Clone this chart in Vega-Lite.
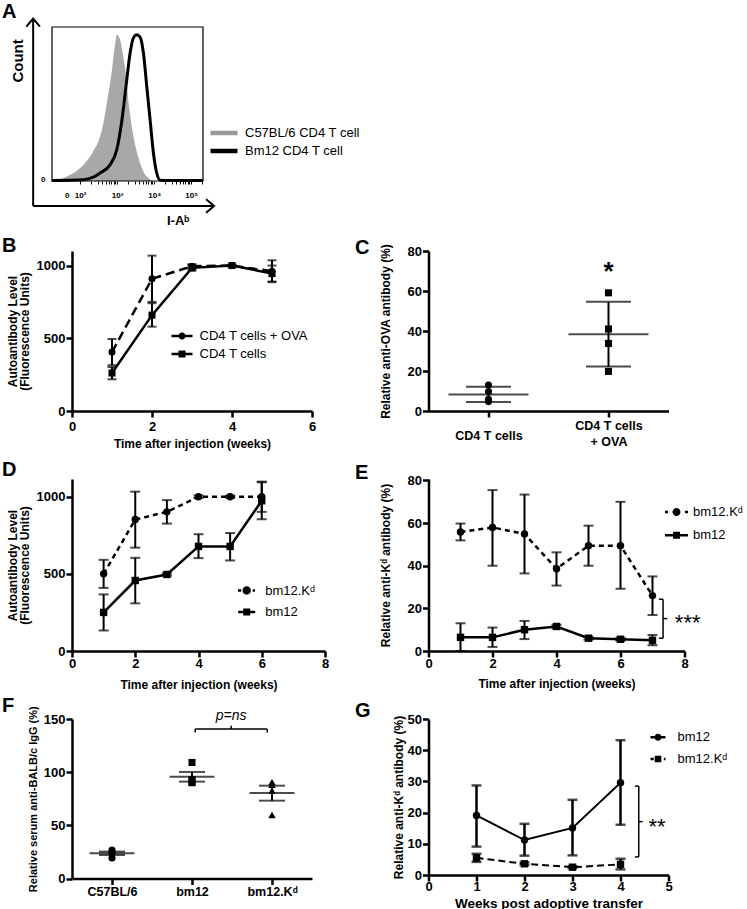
{
"$schema": "https://vega.github.io/schema/vega-lite/v6.json",
"background": "white",
"padding": {"left": 2, "top": 2, "right": 2, "bottom": 2},
"columns": 2,
"align": "each",
"bounds": "flush",
"spacing": {"row": 68, "column": 103.5},
"resolve": {"scale": {"shape": "independent", "stroke": "independent"}, "legend": {"shape": "independent", "stroke": "independent"}},
"config": {
 "font": "Liberation Sans",
 "view": {"stroke": null},
 "axis": {"domainColor": "black", "domainWidth": 2.5, "tickColor": "black", "tickWidth": 2.5, "tickSize": 6, "labelFont": "Liberation Sans", "labelFontWeight": "bold", "labelFontSize": 13, "labelColor": "black", "labelPadding": 1, "titleFont": "Liberation Sans", "titleFontWeight": "bold", "titleColor": "black", "titleFontSize": 12, "grid": false, "labelFlush": false, "labelOverlap": false},
 "legend": {"labelFont": "Liberation Sans", "labelFontSize": 13, "labelColor": "black", "labelLimit": 300},
 "title": {"anchor": "start", "frame": "group", "font": "Liberation Sans", "fontSize": 20, "fontWeight": "bold", "color": "black", "baseline": "top", "offset": 0}
},
"datasets": {
 "hist": [
  {"pop": "C57BL/6 CD4 T cell", "d": 1.24, "c": 0.3},
  {"pop": "C57BL/6 CD4 T cell", "d": 1.45, "c": 1.2},
  {"pop": "C57BL/6 CD4 T cell", "d": 1.64, "c": 3.0},
  {"pop": "C57BL/6 CD4 T cell", "d": 1.9, "c": 6.5},
  {"pop": "C57BL/6 CD4 T cell", "d": 2.135, "c": 11.7},
  {"pop": "C57BL/6 CD4 T cell", "d": 2.35, "c": 19},
  {"pop": "C57BL/6 CD4 T cell", "d": 2.54, "c": 29},
  {"pop": "C57BL/6 CD4 T cell", "d": 2.64, "c": 39},
  {"pop": "C57BL/6 CD4 T cell", "d": 2.72, "c": 50.6},
  {"pop": "C57BL/6 CD4 T cell", "d": 2.8, "c": 62},
  {"pop": "C57BL/6 CD4 T cell", "d": 2.86, "c": 72.3},
  {"pop": "C57BL/6 CD4 T cell", "d": 2.95, "c": 89.6},
  {"pop": "C57BL/6 CD4 T cell", "d": 2.99, "c": 95},
  {"pop": "C57BL/6 CD4 T cell", "d": 3.08, "c": 91.8},
  {"pop": "C57BL/6 CD4 T cell", "d": 3.15, "c": 83},
  {"pop": "C57BL/6 CD4 T cell", "d": 3.22, "c": 72.3},
  {"pop": "C57BL/6 CD4 T cell", "d": 3.31, "c": 50.6},
  {"pop": "C57BL/6 CD4 T cell", "d": 3.44, "c": 29},
  {"pop": "C57BL/6 CD4 T cell", "d": 3.53, "c": 19},
  {"pop": "C57BL/6 CD4 T cell", "d": 3.62, "c": 11.7},
  {"pop": "C57BL/6 CD4 T cell", "d": 3.72, "c": 5.5},
  {"pop": "C57BL/6 CD4 T cell", "d": 3.85, "c": 1.9},
  {"pop": "C57BL/6 CD4 T cell", "d": 3.98, "c": 0},
  {"pop": "Bm12 CD4 T cell", "d": 1.235, "c": 0.3},
  {"pop": "Bm12 CD4 T cell", "d": 2.09, "c": 0.8},
  {"pop": "Bm12 CD4 T cell", "d": 2.36, "c": 2.6},
  {"pop": "Bm12 CD4 T cell", "d": 2.54, "c": 5.2},
  {"pop": "Bm12 CD4 T cell", "d": 2.81, "c": 10.6},
  {"pop": "Bm12 CD4 T cell", "d": 2.99, "c": 20.3},
  {"pop": "Bm12 CD4 T cell", "d": 3.13, "c": 39.8},
  {"pop": "Bm12 CD4 T cell", "d": 3.24, "c": 61.5},
  {"pop": "Bm12 CD4 T cell", "d": 3.35, "c": 83.1},
  {"pop": "Bm12 CD4 T cell", "d": 3.44, "c": 92.9},
  {"pop": "Bm12 CD4 T cell", "d": 3.53, "c": 95},
  {"pop": "Bm12 CD4 T cell", "d": 3.62, "c": 93.5},
  {"pop": "Bm12 CD4 T cell", "d": 3.71, "c": 83.1},
  {"pop": "Bm12 CD4 T cell", "d": 3.8, "c": 61.5},
  {"pop": "Bm12 CD4 T cell", "d": 3.89, "c": 39.8},
  {"pop": "Bm12 CD4 T cell", "d": 3.98, "c": 18.2},
  {"pop": "Bm12 CD4 T cell", "d": 4.07, "c": 5.2},
  {"pop": "Bm12 CD4 T cell", "d": 4.16, "c": 0.5},
  {"pop": "Bm12 CD4 T cell", "d": 4.4, "c": 0.3},
  {"pop": "Bm12 CD4 T cell", "d": 5.32, "c": 0.3}
 ],
 "B": [
  {"series": "CD4 T cells + OVA", "week": 1, "mean": 405, "lo": 315, "hi": 495},
  {"series": "CD4 T cells + OVA", "week": 2, "mean": 909, "lo": 750, "hi": 1068},
  {"series": "CD4 T cells + OVA", "week": 3, "mean": 995, "lo": 980, "hi": 1010},
  {"series": "CD4 T cells + OVA", "week": 4, "mean": 1000, "lo": 994, "hi": 1006},
  {"series": "CD4 T cells + OVA", "week": 5, "mean": 961, "lo": 886, "hi": 1036},
  {"series": "CD4 T cells", "week": 1, "mean": 261, "lo": 218, "hi": 302},
  {"series": "CD4 T cells", "week": 2, "mean": 659, "lo": 580, "hi": 741},
  {"series": "CD4 T cells", "week": 3, "mean": 984, "lo": 966, "hi": 1002},
  {"series": "CD4 T cells", "week": 4, "mean": 1000, "lo": 994, "hi": 1006},
  {"series": "CD4 T cells", "week": 5, "mean": 945, "lo": 890, "hi": 1000}
 ],
 "C_pts": [
  {"group": "CD4 T cells", "value": 13.0},
  {"group": "CD4 T cells", "value": 9.7},
  {"group": "CD4 T cells", "value": 5.9},
  {"group": "CD4 T cells", "value": 4.7},
  {"group": "CD4 T cells + OVA", "value": 59.1},
  {"group": "CD4 T cells + OVA", "value": 41.0},
  {"group": "CD4 T cells + OVA", "value": 33.8},
  {"group": "CD4 T cells + OVA", "value": 19.8}
 ],
 "C_sum": [
  {"group": "CD4 T cells", "mean": 8.3, "lo": 4.5, "hi": 12.1},
  {"group": "CD4 T cells + OVA", "mean": 38.4, "lo": 22.2, "hi": 54.6}
 ],
 "D": [
  {"series": "bm12.Kᵈ", "week": 1, "mean": 500, "lo": 409, "hi": 591},
  {"series": "bm12.Kᵈ", "week": 2, "mean": 852, "lo": 670, "hi": 1033},
  {"series": "bm12.Kᵈ", "week": 3, "mean": 902, "lo": 826, "hi": 978},
  {"series": "bm12.Kᵈ", "week": 4, "mean": 1000, "lo": 992, "hi": 1008},
  {"series": "bm12.Kᵈ", "week": 5, "mean": 1000, "lo": 992, "hi": 1008},
  {"series": "bm12.Kᵈ", "week": 6, "mean": 1000, "lo": 902, "hi": 1098},
  {"series": "bm12", "week": 1, "mean": 250, "lo": 133, "hi": 367},
  {"series": "bm12", "week": 2, "mean": 457, "lo": 309, "hi": 604},
  {"series": "bm12", "week": 3, "mean": 496, "lo": 488, "hi": 504},
  {"series": "bm12", "week": 4, "mean": 678, "lo": 602, "hi": 757},
  {"series": "bm12", "week": 5, "mean": 678, "lo": 587, "hi": 765},
  {"series": "bm12", "week": 6, "mean": 974, "lo": 854, "hi": 1094}
 ],
 "E": [
  {"series": "bm12.Kᵈ", "week": 1, "mean": 55.8, "lo": 51.9, "hi": 59.8},
  {"series": "bm12.Kᵈ", "week": 2, "mean": 58.0, "lo": 40.0, "hi": 75.5},
  {"series": "bm12.Kᵈ", "week": 3, "mean": 54.9, "lo": 36.4, "hi": 73.4},
  {"series": "bm12.Kᵈ", "week": 4, "mean": 38.6, "lo": 30.7, "hi": 46.3},
  {"series": "bm12.Kᵈ", "week": 5, "mean": 49.4, "lo": 40.0, "hi": 58.8},
  {"series": "bm12.Kᵈ", "week": 6, "mean": 49.4, "lo": 29.2, "hi": 70.0},
  {"series": "bm12.Kᵈ", "week": 7, "mean": 26.0, "lo": 16.9, "hi": 35.0},
  {"series": "bm12", "week": 1, "mean": 6.4, "lo": 0, "hi": 13.0},
  {"series": "bm12", "week": 2, "mean": 6.4, "lo": 1.9, "hi": 11.0},
  {"series": "bm12", "week": 3, "mean": 10.0, "lo": 5.6, "hi": 14.1},
  {"series": "bm12", "week": 4, "mean": 11.5, "lo": 10.7, "hi": 12.3},
  {"series": "bm12", "week": 5, "mean": 6.0, "lo": 5.3, "hi": 6.7},
  {"series": "bm12", "week": 6, "mean": 5.5, "lo": 4.8, "hi": 6.2},
  {"series": "bm12", "week": 7, "mean": 5.0, "lo": 2.7, "hi": 7.5}
 ],
 "F_pts": [
  {"group": "C57BL/6", "value": 26.8},
  {"group": "C57BL/6", "value": 24.6},
  {"group": "C57BL/6", "value": 24.0},
  {"group": "C57BL/6", "value": 19.2},
  {"group": "bm12", "value": 109.1},
  {"group": "bm12", "value": 93.0},
  {"group": "bm12", "value": 90.2},
  {"group": "bm12", "value": 90.2},
  {"group": "bm12.Kᵈ", "value": 88.1},
  {"group": "bm12.Kᵈ", "value": 90.6},
  {"group": "bm12.Kᵈ", "value": 82.7},
  {"group": "bm12.Kᵈ", "value": 59.7}
 ],
 "F_sum": [
  {"group": "C57BL/6", "mean": 23.7, "lo": 22.1, "hi": 25.3},
  {"group": "bm12", "mean": 95.6, "lo": 91.1, "hi": 100.2},
  {"group": "bm12.Kᵈ", "mean": 80.3, "lo": 73.2, "hi": 87.3}
 ],
 "G": [
  {"series": "bm12", "week": 1, "mean": 19.1, "lo": 9.1, "hi": 28.7},
  {"series": "bm12", "week": 2, "mean": 11.2, "lo": 6.2, "hi": 16.4},
  {"series": "bm12", "week": 3, "mean": 15.1, "lo": 6.3, "hi": 24.1},
  {"series": "bm12", "week": 4, "mean": 29.6, "lo": 16.1, "hi": 43.2},
  {"series": "bm12.Kᵈ", "week": 1, "mean": 5.5, "lo": 4.2, "hi": 6.8},
  {"series": "bm12.Kᵈ", "week": 2, "mean": 3.6, "lo": 3.2, "hi": 4.0},
  {"series": "bm12.Kᵈ", "week": 3, "mean": 2.5, "lo": 2.2, "hi": 2.8},
  {"series": "bm12.Kᵈ", "week": 4, "mean": 3.4, "lo": 1.8, "hi": 5.2}
 ]
},
"concat": [
 {
  "title": {"text": "A", "dx": -70, "dy": 11.5},
  "width": 131, "height": 154,
  "layer": [
   {"data": {"name": "hist"}, "transform": [{"filter": "datum.pop == 'C57BL/6 CD4 T cell'"}],
    "mark": {"type": "area", "color": "#a8a8a8", "interpolate": "monotone"},
    "encoding": {
     "x": {"field": "d", "type": "quantitative", "scale": {"domain": [1.78, 5.32], "nice": false, "zero": false},
      "axis": {"values": [2, 2.301, 2.477, 2.602, 2.699, 2.778, 2.845, 2.903, 2.954, 3, 3.301, 3.477, 3.602, 3.699, 3.778, 3.845, 3.903, 3.954, 4, 4.301, 4.477, 4.602, 4.699, 4.778, 4.845, 4.903, 4.954, 5, 5.301],
       "tickCount": 100,
       "labelExpr": "datum.value == 2 ? '10²' : datum.value == 3 ? '10³' : datum.value == 4 ? '10⁴' : datum.value == 5 ? '10⁵' : ''",
       "labelOverlap": false, "domain": false, "tickSize": 3, "tickWidth": 1, "labelFontSize": 8, "labelPadding": 7, "title": null}},
     "y": {"field": "c", "type": "quantitative", "scale": {"domain": [0, 100], "nice": false}, "axis": null}}},
   {"data": {"values": [{}]},
    "mark": {"type": "rect", "fillOpacity": 0, "stroke": "black", "strokeWidth": 1.2},
    "encoding": {"x": {"datum": 1.24}, "x2": {"datum": 5.32}, "y": {"datum": 0}, "y2": {"datum": 100}}},
   {"data": {"name": "hist"}, "transform": [{"filter": "datum.pop == 'Bm12 CD4 T cell'"}],
    "mark": {"type": "line", "strokeWidth": 3, "interpolate": "monotone"},
    "encoding": {
     "x": {"field": "d", "type": "quantitative"},
     "y": {"field": "c", "type": "quantitative"},
     "stroke": {"field": "pop", "type": "nominal", "scale": {"domain": ["C57BL/6 CD4 T cell", "Bm12 CD4 T cell"], "range": ["#999999", "black"]},
      "legend": {"title": null, "orient": "none", "legendX": 136, "legendY": 99.5, "symbolType": "stroke", "symbolSize": 729, "symbolStrokeWidth": 4.5, "labelOffset": 5, "clipHeight": 13, "rowPadding": 4, "padding": 0, "labelFontSize": 13}}}},
   {"data": {"values": [{}]}, "mark": {"type": "rule", "color": "black", "strokeWidth": 2},
    "encoding": {"x": {"datum": 0.73}, "y": {"datum": -16.2}, "y2": {"datum": 105}}},
   {"data": {"values": [{}]}, "mark": {"type": "rule", "color": "black", "strokeWidth": 2},
    "encoding": {"y": {"datum": -16.2}, "x": {"datum": 0.73}, "x2": {"datum": 5.6}}},
   {"data": {"values": [{}]}, "mark": {"type": "point", "shape": "M-0.85,1L0,0L0.85,1", "size": 256, "filled": false, "stroke": "black", "strokeWidth": 2, "opacity": 1},
    "encoding": {"x": {"datum": 0.73}, "y": {"datum": 105.5}}},
   {"data": {"values": [{}]}, "mark": {"type": "point", "shape": "M-1,-0.85L0,0L-1,0.85", "size": 256, "filled": false, "stroke": "black", "strokeWidth": 2, "opacity": 1},
    "encoding": {"x": {"datum": 5.62}, "y": {"datum": -16.2}}},
   {"data": {"values": [{}]}, "mark": {"type": "text", "text": "0", "fontSize": 8, "fontWeight": "bold", "align": "center", "baseline": "middle"},
    "encoding": {"x": {"datum": 1.65}, "y": {"datum": -9.7}}},
   {"data": {"values": [{}]}, "mark": {"type": "text", "text": "0", "fontSize": 8, "fontWeight": "bold", "align": "center", "baseline": "middle"},
    "encoding": {"x": {"datum": 1.0}, "y": {"datum": 0.8}}},
   {"data": {"values": [{}]}, "mark": {"type": "text", "text": "Count", "angle": 270, "fontSize": 15, "fontWeight": "bold", "align": "center", "baseline": "middle"},
    "encoding": {"x": {"datum": 0.32}, "y": {"datum": 78}}},
   {"data": {"values": [{}]}, "mark": {"type": "text", "text": "I-Aᵇ", "fontSize": 13, "fontWeight": "bold", "align": "center", "baseline": "middle"},
    "encoding": {"x": {"datum": 4.65}, "y": {"datum": -26}}}
  ]
 },
 {
  "width": 10, "height": 155.5,
  "data": {"values": [{}]},
  "mark": {"type": "point", "opacity": 0}
 },
 {
  "title": {"text": "B", "dx": -70, "dy": 9},
  "width": 240, "height": 160,
  "data": {"name": "B"},
  "layer": [
   {"transform": [{"filter": "datum.series == 'CD4 T cells + OVA'"}],
    "mark": {"type": "line", "color": "black", "strokeWidth": 2.5, "strokeDash": [9, 5]},
    "encoding": {
     "x": {"field": "week", "type": "quantitative", "scale": {"domain": [0, 6], "nice": false}, "axis": {"values": [0, 2, 4, 6], "tickCount": 100, "format": "d", "labelOverlap": false, "title": "Time after injection (weeks)", "labelPadding": 3, "titlePadding": 5}},
     "y": {"field": "mean", "type": "quantitative", "scale": {"domain": [0, 1100], "nice": false}, "axis": {"values": [0, 500, 1000], "tickCount": 100, "format": "d", "labelOverlap": false, "title": ["Autoantibody Level", "(Fluorescence Units)"], "titleLineHeight": 12, "titlePadding": 5}}}},
   {"transform": [{"filter": "datum.series == 'CD4 T cells'"}],
    "mark": {"type": "line", "color": "black", "strokeWidth": 2.5},
    "encoding": {"x": {"field": "week", "type": "quantitative"}, "y": {"field": "mean", "type": "quantitative"}}},
   {"mark": {"type": "rule", "color": "black", "strokeWidth": 2},
    "encoding": {"x": {"field": "week", "type": "quantitative"}, "y": {"field": "lo", "type": "quantitative"}, "y2": {"field": "hi"}}},
   {"mark": {"type": "tick", "orient": "horizontal", "color": "black", "size": 9, "thickness": 2},
    "encoding": {"x": {"field": "week", "type": "quantitative"}, "y": {"field": "lo", "type": "quantitative"}}},
   {"mark": {"type": "tick", "orient": "horizontal", "color": "black", "size": 9, "thickness": 2},
    "encoding": {"x": {"field": "week", "type": "quantitative"}, "y": {"field": "hi", "type": "quantitative"}}},
   {"transform": [{"filter": "datum.series == 'CD4 T cells + OVA'"}],
    "mark": {"type": "point", "shape": "circle", "filled": true, "color": "black", "size": 50, "opacity": 1},
    "encoding": {"x": {"field": "week", "type": "quantitative"}, "y": {"field": "mean", "type": "quantitative"}}},
   {"transform": [{"filter": "datum.series == 'CD4 T cells'"}],
    "mark": {"type": "point", "shape": "square", "filled": true, "color": "black", "size": 50, "opacity": 1},
    "encoding": {"x": {"field": "week", "type": "quantitative"}, "y": {"field": "mean", "type": "quantitative"}}},
   {"mark": {"type": "point", "filled": true, "color": "black", "opacity": 0},
    "encoding": {"x": {"field": "week", "type": "quantitative"}, "y": {"field": "mean", "type": "quantitative"},
     "shape": {"field": "series", "type": "nominal",
      "scale": {"domain": ["CD4 T cells + OVA", "CD4 T cells"], "range": ["M-2.1,-0.25H2.1V0.25H-2.1ZM0.7,0A0.7,0.7,0,1,1,-0.7,0A0.7,0.7,0,1,1,0.7,0Z", "M-2.1,-0.25H2.1V0.25H-2.1ZM-0.7,-0.7H0.7V0.7H-0.7Z"]},
      "legend": {"title": null, "orient": "none", "legendX": 103.5, "legendY": 78.5, "symbolSize": 100, "symbolFillColor": "black", "symbolStrokeColor": "black", "symbolStrokeWidth": 2.5, "symbolOpacity": 1, "labelOffset": 11, "rowPadding": 1, "padding": 0, "labelFontSize": 13}}}}
  ]
 },
 {
  "title": {"text": "C", "dx": -73.5, "dy": 18.7},
  "width": 240, "height": 160,
  "layer": [
   {"data": {"name": "C_sum"},
    "mark": {"type": "rule", "color": "black", "strokeWidth": 2},
    "encoding": {
     "x": {"field": "group", "type": "nominal", "scale": {"type": "point", "padding": 0.5, "domain": ["CD4 T cells", "CD4 T cells + OVA"]},
      "axis": {"title": null, "labelAngle": 0, "labelOverlap": false, "labelBaseline": "top", "labelLineHeight": 16, "labelFontSize": 12.5,
       "labelPadding": {"condition": {"test": "datum.value == 'CD4 T cells + OVA'", "value": 2}, "value": 12},
       "labelExpr": "datum.value == 'CD4 T cells + OVA' ? ['CD4 T cells', '+ OVA'] : datum.label"}},
     "y": {"field": "lo", "type": "quantitative", "scale": {"domain": [0, 80], "nice": false}, "axis": {"values": [0, 20, 40, 60, 80], "tickCount": 100, "format": "d", "labelOverlap": false, "title": "Relative anti-OVA antibody (%)", "titlePadding": 15}},
     "y2": {"field": "hi"}}},
   {"data": {"name": "C_sum"},
    "mark": {"type": "tick", "orient": "horizontal", "color": "black", "size": 80, "thickness": 2},
    "encoding": {"x": {"field": "group", "type": "nominal"}, "y": {"field": "mean", "type": "quantitative"}}},
   {"data": {"name": "C_sum"},
    "mark": {"type": "tick", "orient": "horizontal", "color": "black", "size": 45, "thickness": 2},
    "encoding": {"x": {"field": "group", "type": "nominal"}, "y": {"field": "lo", "type": "quantitative"}}},
   {"data": {"name": "C_sum"},
    "mark": {"type": "tick", "orient": "horizontal", "color": "black", "size": 45, "thickness": 2},
    "encoding": {"x": {"field": "group", "type": "nominal"}, "y": {"field": "hi", "type": "quantitative"}}},
   {"data": {"name": "C_pts"}, "transform": [{"filter": "datum.group == 'CD4 T cells'"}],
    "mark": {"type": "point", "shape": "circle", "filled": true, "color": "black", "size": 50, "opacity": 1},
    "encoding": {"x": {"field": "group", "type": "nominal"}, "y": {"field": "value", "type": "quantitative"}}},
   {"data": {"name": "C_pts"}, "transform": [{"filter": "datum.group == 'CD4 T cells + OVA'"}],
    "mark": {"type": "point", "shape": "square", "filled": true, "color": "black", "size": 50, "opacity": 1},
    "encoding": {"x": {"field": "group", "type": "nominal"}, "y": {"field": "value", "type": "quantitative"}}},
   {"data": {"values": [{}]},
    "mark": {"type": "text", "text": "*", "fontSize": 26, "fontWeight": "bold", "align": "center", "baseline": "middle"},
    "encoding": {"x": {"datum": "CD4 T cells + OVA"}, "y": {"datum": 69.5}}}
  ]
 },
 {
  "title": {"text": "D", "dx": -70, "dy": 4.5},
  "width": 253, "height": 172,
  "data": {"name": "D"},
  "layer": [
   {"transform": [{"filter": "datum.series == 'bm12.Kᵈ'"}],
    "mark": {"type": "line", "color": "black", "strokeWidth": 2.5, "strokeDash": [5, 4]},
    "encoding": {
     "x": {"field": "week", "type": "quantitative", "scale": {"domain": [0, 8], "nice": false}, "axis": {"values": [0, 2, 4, 6, 8], "tickCount": 100, "format": "d", "labelOverlap": false, "title": "Time after injection (weeks)", "labelPadding": 0, "titlePadding": 9}},
     "y": {"field": "mean", "type": "quantitative", "scale": {"domain": [0, 1115], "nice": false}, "axis": {"values": [0, 500, 1000], "tickCount": 100, "format": "d", "labelOverlap": false, "title": ["Autoantibody Level", "(Fluorescence Units)"], "titleLineHeight": 12, "titlePadding": 5}}}},
   {"transform": [{"filter": "datum.series == 'bm12'"}],
    "mark": {"type": "line", "color": "black", "strokeWidth": 2.5},
    "encoding": {"x": {"field": "week", "type": "quantitative"}, "y": {"field": "mean", "type": "quantitative"}}},
   {"mark": {"type": "rule", "color": "black", "strokeWidth": 2},
    "encoding": {"x": {"field": "week", "type": "quantitative"}, "y": {"field": "lo", "type": "quantitative"}, "y2": {"field": "hi"}}},
   {"mark": {"type": "tick", "orient": "horizontal", "color": "black", "size": 10, "thickness": 2},
    "encoding": {"x": {"field": "week", "type": "quantitative"}, "y": {"field": "lo", "type": "quantitative"}}},
   {"mark": {"type": "tick", "orient": "horizontal", "color": "black", "size": 10, "thickness": 2},
    "encoding": {"x": {"field": "week", "type": "quantitative"}, "y": {"field": "hi", "type": "quantitative"}}},
   {"transform": [{"filter": "datum.series == 'bm12.Kᵈ'"}],
    "mark": {"type": "point", "shape": "circle", "filled": true, "color": "black", "size": 55, "opacity": 1},
    "encoding": {"x": {"field": "week", "type": "quantitative"}, "y": {"field": "mean", "type": "quantitative"}}},
   {"transform": [{"filter": "datum.series == 'bm12'"}],
    "mark": {"type": "point", "shape": "square", "filled": true, "color": "black", "size": 55, "opacity": 1},
    "encoding": {"x": {"field": "week", "type": "quantitative"}, "y": {"field": "mean", "type": "quantitative"}}},
   {"mark": {"type": "point", "filled": true, "color": "black", "opacity": 0},
    "encoding": {"x": {"field": "week", "type": "quantitative"}, "y": {"field": "mean", "type": "quantitative"},
     "shape": {"field": "series", "type": "nominal",
      "scale": {"domain": ["bm12.Kᵈ", "bm12"], "range": ["M-1.74,-0.25H-1.1V0.25H-1.74ZM1.2,-0.25H1.66V0.25H1.2ZM0.84,0A0.84,0.84,0,1,1,-0.84,0A0.84,0.84,0,1,1,0.84,0Z", "M-1.7,-0.25H1.7V0.25H-1.7ZM-0.7,-0.7H0.7V0.7H-0.7Z"]},
      "legend": {"title": null, "orient": "none", "legendX": 168.2, "legendY": 105, "symbolSize": 100, "symbolFillColor": "black", "symbolStrokeColor": "black", "symbolStrokeWidth": 2.5, "symbolOpacity": 1, "labelOffset": 12, "rowPadding": 3.6, "padding": 0, "labelFontSize": 13}}}}
  ]
 },
 {
  "title": {"text": "E", "dx": -73.5, "dy": 12.7},
  "width": 256, "height": 172,
  "data": {"name": "E"},
  "layer": [
   {"transform": [{"filter": "datum.series == 'bm12.Kᵈ'"}],
    "mark": {"type": "line", "color": "black", "strokeWidth": 2.5, "strokeDash": [5, 4]},
    "encoding": {
     "x": {"field": "week", "type": "quantitative", "scale": {"domain": [0, 8], "nice": false}, "axis": {"values": [0, 2, 4, 6, 8], "tickCount": 100, "format": "d", "labelOverlap": false, "title": "Time after injection (weeks)", "labelPadding": 0, "titlePadding": 8}},
     "y": {"field": "mean", "type": "quantitative", "scale": {"domain": [0, 80.7], "nice": false}, "axis": {"values": [0, 20, 40, 60, 80], "tickCount": 100, "format": "d", "labelOverlap": false, "title": "Relative anti-Kᵈ antibody (%)", "titlePadding": 15}}}},
   {"transform": [{"filter": "datum.series == 'bm12'"}],
    "mark": {"type": "line", "color": "black", "strokeWidth": 2.5},
    "encoding": {"x": {"field": "week", "type": "quantitative"}, "y": {"field": "mean", "type": "quantitative"}}},
   {"mark": {"type": "rule", "color": "black", "strokeWidth": 2},
    "encoding": {"x": {"field": "week", "type": "quantitative"}, "y": {"field": "lo", "type": "quantitative"}, "y2": {"field": "hi"}}},
   {"mark": {"type": "tick", "orient": "horizontal", "color": "black", "size": 10, "thickness": 2},
    "encoding": {"x": {"field": "week", "type": "quantitative"}, "y": {"field": "lo", "type": "quantitative"}}},
   {"mark": {"type": "tick", "orient": "horizontal", "color": "black", "size": 10, "thickness": 2},
    "encoding": {"x": {"field": "week", "type": "quantitative"}, "y": {"field": "hi", "type": "quantitative"}}},
   {"transform": [{"filter": "datum.series == 'bm12.Kᵈ'"}],
    "mark": {"type": "point", "shape": "circle", "filled": true, "color": "black", "size": 55, "opacity": 1},
    "encoding": {"x": {"field": "week", "type": "quantitative"}, "y": {"field": "mean", "type": "quantitative"}}},
   {"transform": [{"filter": "datum.series == 'bm12'"}],
    "mark": {"type": "point", "shape": "square", "filled": true, "color": "black", "size": 55, "opacity": 1},
    "encoding": {"x": {"field": "week", "type": "quantitative"}, "y": {"field": "mean", "type": "quantitative"}}},
   {"data": {"values": [{}]}, "mark": {"type": "rule", "color": "black", "strokeWidth": 1.5},
    "encoding": {"x": {"datum": 7.33}, "y": {"datum": 6.0}, "y2": {"datum": 24.3}}},
   {"data": {"values": [{}]}, "mark": {"type": "rule", "color": "black", "strokeWidth": 1.5},
    "encoding": {"x": {"datum": 7.2}, "x2": {"datum": 7.33}, "y": {"datum": 24.3}}},
   {"data": {"values": [{}]}, "mark": {"type": "rule", "color": "black", "strokeWidth": 1.5},
    "encoding": {"x": {"datum": 7.2}, "x2": {"datum": 7.33}, "y": {"datum": 6.0}}},
   {"data": {"values": [{}]}, "mark": {"type": "rule", "color": "black", "strokeWidth": 1.5},
    "encoding": {"x": {"datum": 7.33}, "x2": {"datum": 7.46}, "y": {"datum": 15.2}}},
   {"data": {"values": [{}]}, "mark": {"type": "text", "text": "***", "fontSize": 22, "align": "center", "baseline": "middle"},
    "encoding": {"x": {"datum": 8.1}, "y": {"datum": 13}}},
   {"mark": {"type": "point", "filled": true, "color": "black", "opacity": 0},
    "encoding": {"x": {"field": "week", "type": "quantitative"}, "y": {"field": "mean", "type": "quantitative"},
     "shape": {"field": "series", "type": "nominal",
      "scale": {"domain": ["bm12.Kᵈ", "bm12"], "range": ["M-2.3,-0.25H-1.7V0.25H-2.3ZM1.7,-0.25H2.3V0.25H1.7ZM0.8,0A0.8,0.8,0,1,1,-0.8,0A0.8,0.8,0,1,1,0.8,0Z", "M-2.3,-0.25H2.3V0.25H-2.3ZM-0.7,-0.7H0.7V0.7H-0.7Z"]},
      "legend": {"title": null, "orient": "none", "legendX": 241.5, "legendY": 26.5, "symbolSize": 100, "symbolFillColor": "black", "symbolStrokeColor": "black", "symbolStrokeWidth": 2.5, "symbolOpacity": 1, "labelOffset": 10, "rowPadding": 5.3, "padding": 0, "labelFontSize": 13}}}}
  ]
 },
 {
  "title": {"text": "F", "dx": -70, "dy": 14.5},
  "width": 240, "height": 159.5,
  "resolve": {"scale": {"x": "independent"}},
  "layer": [
   {"layer": [
    {"data": {"name": "F_sum"},
     "mark": {"type": "rule", "color": "black", "strokeWidth": 2},
     "encoding": {
      "x": {"field": "group", "type": "nominal", "scale": {"type": "point", "padding": 0.5, "domain": ["C57BL/6", "bm12", "bm12.Kᵈ"]},
       "axis": {"title": null, "labelAngle": 0, "labelOverlap": false, "labelPadding": 1, "labelFontSize": 12.5}},
      "y": {"field": "lo", "type": "quantitative", "scale": {"domain": [0, 150], "nice": false}, "axis": {"values": [0, 50, 100, 150], "tickCount": 100, "format": "d", "labelOverlap": false, "title": "Relative serum anti-BALB/c IgG (%)", "titleFontSize": 11, "titlePadding": 5}},
      "y2": {"field": "hi"}}},
    {"data": {"name": "F_sum"},
     "mark": {"type": "tick", "orient": "horizontal", "color": "black", "size": 45, "thickness": 2},
     "encoding": {"x": {"field": "group", "type": "nominal"}, "y": {"field": "mean", "type": "quantitative"}}},
    {"data": {"name": "F_sum"},
     "mark": {"type": "tick", "orient": "horizontal", "color": "black", "size": 26, "thickness": 2},
     "encoding": {"x": {"field": "group", "type": "nominal"}, "y": {"field": "lo", "type": "quantitative"}}},
    {"data": {"name": "F_sum"},
     "mark": {"type": "tick", "orient": "horizontal", "color": "black", "size": 26, "thickness": 2},
     "encoding": {"x": {"field": "group", "type": "nominal"}, "y": {"field": "hi", "type": "quantitative"}}},
    {"data": {"name": "F_pts"}, "transform": [{"filter": "datum.group == 'C57BL/6'"}],
     "mark": {"type": "point", "shape": "circle", "filled": true, "color": "black", "size": 50, "opacity": 1},
     "encoding": {"x": {"field": "group", "type": "nominal"}, "y": {"field": "value", "type": "quantitative"}}},
    {"data": {"name": "F_pts"}, "transform": [{"filter": "datum.group == 'bm12'"}],
     "mark": {"type": "point", "shape": "square", "filled": true, "color": "black", "size": 50, "opacity": 1},
     "encoding": {"x": {"field": "group", "type": "nominal"}, "y": {"field": "value", "type": "quantitative"}}},
    {"data": {"name": "F_pts"}, "transform": [{"filter": "datum.group == 'bm12.Kᵈ'"}],
     "mark": {"type": "point", "shape": "triangle-up", "filled": true, "color": "black", "size": 55, "opacity": 1},
     "encoding": {"x": {"field": "group", "type": "nominal"}, "y": {"field": "value", "type": "quantitative"}}}
   ]},
   {"data": {"values": [{}]},
    "layer": [
     {"mark": {"type": "rule", "color": "black", "strokeWidth": 1.5},
      "encoding": {"x": {"datum": 1.54, "type": "quantitative", "scale": {"domain": [0, 3], "nice": false, "zero": false}, "axis": null}, "x2": {"datum": 2.44}, "y": {"datum": 140.6}}},
     {"mark": {"type": "rule", "color": "black", "strokeWidth": 1.5},
      "encoding": {"x": {"datum": 1.54, "type": "quantitative"}, "y": {"datum": 137.4}, "y2": {"datum": 140.6}}},
     {"mark": {"type": "rule", "color": "black", "strokeWidth": 1.5},
      "encoding": {"x": {"datum": 2.44, "type": "quantitative"}, "y": {"datum": 137.4}, "y2": {"datum": 140.6}}},
     {"mark": {"type": "rule", "color": "black", "strokeWidth": 1.5},
      "encoding": {"x": {"datum": 1.99, "type": "quantitative"}, "y": {"datum": 140.6}, "y2": {"datum": 143.6}}},
     {"mark": {"type": "text", "text": "p=ns", "fontSize": 14, "fontStyle": "italic", "align": "center", "baseline": "middle"},
      "encoding": {"x": {"datum": 1.99, "type": "quantitative"}, "y": {"datum": 152.5}}}
    ]}
  ]
 },
 {
  "title": {"text": "G", "dx": -73.5, "dy": 11.5},
  "width": 240, "height": 156,
  "data": {"name": "G"},
  "layer": [
   {"transform": [{"filter": "datum.series == 'bm12'"}],
    "mark": {"type": "line", "color": "black", "strokeWidth": 2},
    "encoding": {
     "x": {"field": "week", "type": "quantitative", "scale": {"domain": [0, 5], "nice": false}, "axis": {"values": [0, 1, 2, 3, 4, 5], "tickCount": 100, "format": "d", "labelOverlap": false, "title": "Weeks post adoptive transfer", "titleFontSize": 13.5, "labelPadding": -1, "titlePadding": 3}},
     "y": {"field": "mean", "type": "quantitative", "scale": {"domain": [0, 50], "nice": false}, "axis": {"values": [0, 10, 20, 30, 40, 50], "tickCount": 100, "format": "d", "labelOverlap": false, "title": "Relative anti-Kᵈ antibody (%)", "titlePadding": 2}}}},
   {"transform": [{"filter": "datum.series == 'bm12.Kᵈ'"}],
    "mark": {"type": "line", "color": "black", "strokeWidth": 2, "strokeDash": [7, 4]},
    "encoding": {"x": {"field": "week", "type": "quantitative"}, "y": {"field": "mean", "type": "quantitative"}}},
   {"mark": {"type": "rule", "color": "black", "strokeWidth": 2.5},
    "encoding": {"x": {"field": "week", "type": "quantitative"}, "y": {"field": "lo", "type": "quantitative"}, "y2": {"field": "hi"}}},
   {"mark": {"type": "tick", "orient": "horizontal", "color": "black", "size": 10, "thickness": 2.5},
    "encoding": {"x": {"field": "week", "type": "quantitative"}, "y": {"field": "lo", "type": "quantitative"}}},
   {"mark": {"type": "tick", "orient": "horizontal", "color": "black", "size": 10, "thickness": 2.5},
    "encoding": {"x": {"field": "week", "type": "quantitative"}, "y": {"field": "hi", "type": "quantitative"}}},
   {"transform": [{"filter": "datum.series == 'bm12'"}],
    "mark": {"type": "point", "shape": "circle", "filled": true, "color": "black", "size": 55, "opacity": 1},
    "encoding": {"x": {"field": "week", "type": "quantitative"}, "y": {"field": "mean", "type": "quantitative"}}},
   {"transform": [{"filter": "datum.series == 'bm12.Kᵈ'"}],
    "mark": {"type": "point", "shape": "square", "filled": true, "color": "black", "size": 55, "opacity": 1},
    "encoding": {"x": {"field": "week", "type": "quantitative"}, "y": {"field": "mean", "type": "quantitative"}}},
   {"data": {"values": [{}]}, "mark": {"type": "rule", "color": "black", "strokeWidth": 1.5},
    "encoding": {"x": {"datum": 4.38}, "y": {"datum": 5.8}, "y2": {"datum": 28.5}}},
   {"data": {"values": [{}]}, "mark": {"type": "rule", "color": "black", "strokeWidth": 1.5},
    "encoding": {"x": {"datum": 4.3}, "x2": {"datum": 4.38}, "y": {"datum": 28.5}}},
   {"data": {"values": [{}]}, "mark": {"type": "rule", "color": "black", "strokeWidth": 1.5},
    "encoding": {"x": {"datum": 4.3}, "x2": {"datum": 4.38}, "y": {"datum": 5.8}}},
   {"data": {"values": [{}]}, "mark": {"type": "rule", "color": "black", "strokeWidth": 1.5},
    "encoding": {"x": {"datum": 4.38}, "x2": {"datum": 4.46}, "y": {"datum": 17.1}}},
   {"data": {"values": [{}]}, "mark": {"type": "text", "text": "**", "fontSize": 22, "align": "center", "baseline": "middle"},
    "encoding": {"x": {"datum": 4.76}, "y": {"datum": 15.3}}},
   {"mark": {"type": "point", "filled": true, "color": "black", "opacity": 0},
    "encoding": {"x": {"field": "week", "type": "quantitative"}, "y": {"field": "mean", "type": "quantitative"},
     "shape": {"field": "series", "type": "nominal",
      "scale": {"domain": ["bm12", "bm12.Kᵈ"], "range": ["M-1.5,-0.25H1.5V0.25H-1.5ZM0.7,0A0.7,0.7,0,1,1,-0.7,0A0.7,0.7,0,1,1,0.7,0Z", "M-1.5,-0.25H-0.84V0.25H-1.5ZM1.16,-0.25H1.5V0.25H1.16ZM-0.66,-0.66H0.66V0.66H-0.66Z"]},
      "legend": {"title": null, "orient": "none", "legendX": 223, "legendY": 11.8, "symbolSize": 100, "symbolFillColor": "black", "symbolStrokeColor": "black", "symbolStrokeWidth": 2.5, "symbolOpacity": 1, "labelOffset": 13, "rowPadding": 4.7, "padding": 0, "labelFontSize": 13}}}}
  ]
 }
]
}
